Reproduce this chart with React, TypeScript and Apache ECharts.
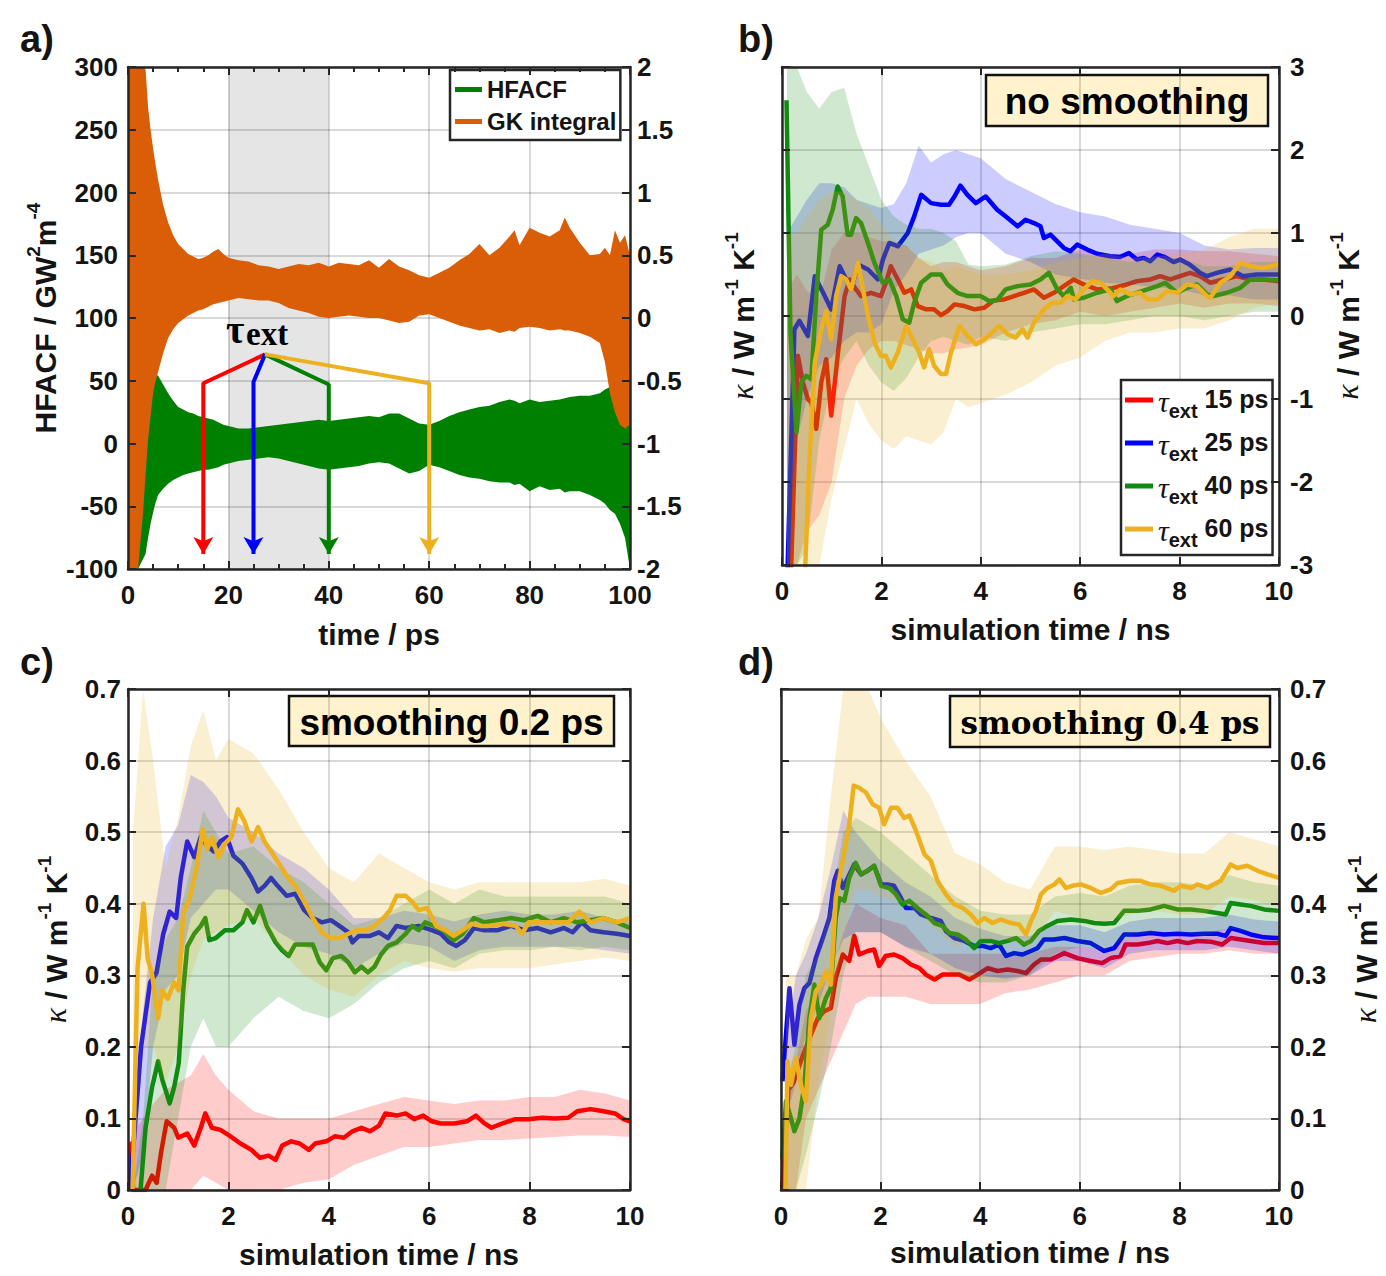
import React, { useEffect, useRef } from 'react';
import * as echarts from 'echarts';

// ---------- panel a: HFACF and running Green–Kubo integral (0–100 ps) ----------
// noisy traces are stored as their upper / lower envelopes
const T_A = [0, 1, 2, 3, 3.5, 4, 4.5, 5, 5.5, 6, 7, 8, 9, 10, 11, 12, 13, 14, 15, 16, 17, 18, 19, 20, 22, 24, 26, 28, 30, 32, 34, 36, 38, 40, 42, 44, 46, 48, 50, 52, 54, 56, 58, 60, 62, 64, 66, 68, 70, 72, 74, 76, 77, 78, 80, 82, 84, 86, 87, 88, 90, 92, 94, 95, 96, 97, 98, 99, 100];
// GK integral, W m^-1 K^-1 (right axis)
const GK_HI = [2, 2, 2, 2, 1.98, 1.68, 1.5, 1.35, 1.22, 1.1, 0.9, 0.76, 0.66, 0.59, 0.55, 0.51, 0.49, 0.47, 0.48, 0.5, 0.53, 0.55, 0.51, 0.48, 0.46, 0.45, 0.42, 0.41, 0.39, 0.41, 0.43, 0.42, 0.44, 0.41, 0.44, 0.43, 0.42, 0.46, 0.4, 0.47, 0.41, 0.38, 0.34, 0.32, 0.36, 0.4, 0.46, 0.51, 0.59, 0.5, 0.56, 0.65, 0.7, 0.58, 0.72, 0.68, 0.65, 0.7, 0.8, 0.72, 0.6, 0.5, 0.51, 0.56, 0.5, 0.7, 0.6, 0.66, 0.5];
const GK_LO = [-2, -2, -2, -1.55, -1.25, -0.97, -0.78, -0.6, -0.5, -0.43, -0.28, -0.16, -0.09, -0.04, -0.01, 0.02, 0.04, 0.06, 0.07, 0.09, 0.11, 0.12, 0.13, 0.14, 0.16, 0.15, 0.14, 0.14, 0.12, 0.08, 0.06, 0.04, 0.01, 0, 0.01, 0.02, 0.01, 0, 0, -0.02, -0.04, -0.03, 0.02, 0.03, 0, -0.03, -0.06, -0.08, -0.1, -0.09, -0.12, -0.1, -0.11, -0.08, -0.07, -0.08, -0.1, -0.09, -0.1, -0.1, -0.12, -0.15, -0.2, -0.35, -0.6, -0.75, -0.85, -0.88, -0.85];
// HFACF, GW^2 m^-4 (left axis)
const HF_HI = [300, 300, 200, 100, 80, 70, 62, 57, 55, 54, 47, 40, 34, 29, 27, 25, 24, 22, 21, 20, 19, 17, 15, 14, 12, 12, 13, 14, 15, 16, 17, 18, 19, 18, 19, 20, 21, 22, 21, 24, 24, 20, 16, 15, 18, 22, 25, 27, 29, 30, 33, 35, 34, 32, 35, 33, 34, 35, 36, 37, 38, 38, 40, 43, 45, 46, 48, 45, 40];
const HF_LO = [-100, -100, -100, -92, -88, -75, -64, -55, -47, -41, -36, -32, -29, -27, -25, -24, -23, -22, -21, -21, -20, -19, -17, -16, -14, -13, -12, -11, -12, -14, -16, -18, -20, -21, -20, -19, -18, -16, -15, -16, -20, -24, -22, -17, -19, -22, -25, -27, -28, -30, -31, -31, -33, -32, -38, -34, -37, -36, -39, -38, -38, -41, -45, -48, -53, -56, -64, -75, -100];
const SHADE_A = [20, 40];
// tau_ext arrows: common apex, knee height, ending near the time axis
const TAU_APEX = [27.3, 71];
const TAU_X = [15, 25, 40, 60];
const TAU_KNEE = [48, 49, 47, 48];
const TAU_END = -88;

// ---------- legend labels ----------
const TAU_VALUES = ['15 ps', '25 ps', '40 ps', '60 ps'];

// ---------- panel b: no smoothing ----------
const B_RED = [[0.17, -3.3], [0.32, -0.48], [0.42, -0.8], [0.52, -1.0], [0.59, -1.04], [0.69, -1.36], [0.79, -0.8], [0.89, -0.52], [0.99, -1.2], [1.12, -0.48], [1.26, 0.24], [1.36, 0.44], [1.49, 0.32], [1.59, 0.24], [1.79, 0.28], [1.99, 0.24], [2.09, 0.4], [2.19, 0.6], [2.33, 0.44], [2.46, 0.28], [2.6, 0.32], [2.73, 0.12], [2.9, 0.08], [3.06, 0.08], [3.2, 0.01], [3.33, 0.06], [3.47, 0.14], [3.67, 0.12], [3.87, 0.08], [4.07, 0.1], [4.27, 0.19], [4.47, 0.2], [4.67, 0.24], [4.87, 0.28], [5.07, 0.32], [5.27, 0.22], [5.47, 0.28], [5.67, 0.36], [5.87, 0.44], [6.07, 0.38], [6.34, 0.32], [6.61, 0.33], [6.88, 0.37], [7.14, 0.42], [7.41, 0.44], [7.61, 0.48], [7.81, 0.44], [8.01, 0.48], [8.21, 0.52], [8.41, 0.48], [8.62, 0.4], [8.88, 0.44], [9.15, 0.48], [9.42, 0.44], [9.68, 0.44], [10, 0.42]];
const B_BLUE = [[0.1, -3.3], [0.25, -0.16], [0.35, -0.06], [0.52, -0.24], [0.66, 0.48], [0.86, 0.24], [0.99, 0.08], [1.16, 0.6], [1.26, 0.48], [1.39, 0.32], [1.53, 0.62], [1.73, 0.56], [1.93, 0.44], [2.03, 0.68], [2.16, 0.88], [2.33, 0.84], [2.53, 1.0], [2.66, 1.2], [2.8, 1.46], [3.0, 1.36], [3.2, 1.34], [3.36, 1.34], [3.47, 1.44], [3.59, 1.57], [3.73, 1.46], [3.9, 1.36], [4.1, 1.44], [4.33, 1.28], [4.54, 1.18], [4.74, 1.08], [4.9, 1.16], [5.07, 1.12], [5.2, 1.08], [5.27, 0.94], [5.4, 0.98], [5.67, 0.82], [5.8, 0.78], [5.94, 0.86], [6.14, 0.8], [6.34, 0.75], [6.6, 0.72], [6.8, 0.71], [6.98, 0.76], [7.14, 0.68], [7.28, 0.7], [7.41, 0.66], [7.55, 0.74], [7.71, 0.71], [7.88, 0.65], [8.01, 0.68], [8.2, 0.62], [8.41, 0.52], [8.55, 0.48], [8.75, 0.52], [9.02, 0.56], [9.28, 0.48], [9.55, 0.5], [9.82, 0.5], [10, 0.5]];
const B_GREEN = [[0.09, 2.6], [0.17, -0.2], [0.29, -1.4], [0.39, -0.8], [0.49, -0.72], [0.59, -0.76], [0.69, 0.24], [0.79, 1.04], [0.92, 1.1], [1.02, 1.28], [1.12, 1.56], [1.22, 1.44], [1.32, 0.98], [1.39, 0.98], [1.49, 1.18], [1.59, 1.12], [1.73, 0.88], [1.86, 0.64], [2.03, 0.4], [2.16, 0.44], [2.3, 0.24], [2.43, -0.04], [2.56, -0.08], [2.66, 0.16], [2.8, 0.4], [3.0, 0.5], [3.2, 0.5], [3.33, 0.38], [3.53, 0.28], [3.73, 0.24], [4.0, 0.24], [4.17, 0.18], [4.33, 0.19], [4.5, 0.32], [4.74, 0.36], [5.0, 0.38], [5.2, 0.44], [5.37, 0.52], [5.54, 0.32], [5.67, 0.24], [5.81, 0.34], [5.87, 0.2], [6.07, 0.22], [6.34, 0.28], [6.61, 0.32], [6.74, 0.18], [6.94, 0.24], [7.14, 0.28], [7.35, 0.32], [7.55, 0.36], [7.71, 0.4], [7.95, 0.28], [8.15, 0.34], [8.35, 0.38], [8.55, 0.26], [8.68, 0.24], [8.95, 0.28], [9.22, 0.34], [9.42, 0.44], [9.68, 0.44], [10, 0.43]];
const B_YELLOW = [[0.45, -3.3], [0.55, -1.76], [0.66, -0.56], [0.79, -0.16], [0.89, 0.06], [0.99, -0.28], [1.09, 0.24], [1.19, 0.48], [1.29, 0.44], [1.39, 0.32], [1.53, 0.64], [1.63, 0.32], [1.73, 0], [1.86, -0.32], [1.99, -0.48], [2.09, -0.48], [2.19, -0.62], [2.33, -0.44], [2.5, -0.12], [2.63, -0.28], [2.76, -0.44], [2.86, -0.62], [2.96, -0.4], [3.06, -0.6], [3.2, -0.7], [3.3, -0.7], [3.4, -0.44], [3.57, -0.12], [3.73, -0.24], [3.9, -0.34], [4.07, -0.28], [4.23, -0.2], [4.37, -0.12], [4.54, -0.22], [4.7, -0.26], [4.84, -0.16], [4.94, -0.26], [5.07, -0.08], [5.27, 0.08], [5.44, 0.16], [5.61, 0.16], [5.74, 0.24], [5.91, 0.2], [6.07, 0.32], [6.24, 0.42], [6.41, 0.4], [6.54, 0.32], [6.67, 0.24], [6.81, 0.32], [7.01, 0.26], [7.21, 0.28], [7.35, 0.2], [7.55, 0.2], [7.75, 0.3], [7.95, 0.28], [8.15, 0.38], [8.35, 0.36], [8.55, 0.24], [8.62, 0.22], [8.82, 0.4], [9.02, 0.48], [9.22, 0.64], [9.42, 0.6], [9.68, 0.58], [10, 0.62]];
// uncertainty envelopes, panel b
const BT_B = [0.1, 0.3, 0.5, 0.75, 1, 1.25, 1.5, 1.75, 2, 2.25, 2.5, 2.75, 3, 3.25, 3.5, 3.75, 4, 4.5, 5, 5.5, 6, 6.5, 7, 7.5, 8, 8.5, 9, 9.5, 10];
const B_RED_HI = [0.3, 0.5, 0.3, 0.2, 0.8, 1.0, 1.0, 0.95, 0.9, 0.9, 0.85, 0.7, 0.6, 0.65, 0.65, 0.6, 0.55, 0.6, 0.7, 0.7, 0.8, 0.75, 0.75, 0.8, 0.8, 0.78, 0.78, 0.75, 0.72];
const B_RED_LO = [-3, -3, -2.6, -2.4, -2.0, -1.0, -0.6, -0.4, -0.3, -0.3, -0.35, -0.4, -0.45, -0.45, -0.4, -0.38, -0.35, -0.2, -0.1, -0.05, 0.05, 0.0, 0.05, 0.1, 0.15, 0.1, 0.15, 0.15, 0.12];
const B_BLUE_HI = [1.0, 1.2, 1.4, 1.6, 1.6, 1.55, 1.4, 1.35, 1.3, 1.35, 1.6, 2.05, 1.85, 1.95, 2.0, 1.95, 1.9, 1.65, 1.5, 1.35, 1.25, 1.2, 1.1, 1.05, 1.0, 0.85, 0.8, 0.82, 0.82];
const B_BLUE_LO = [-3, -1.5, -1.0, -0.6, -0.5, -0.3, -0.2, -0.2, -0.1, 0.3, 0.5, 0.75, 0.8, 0.85, 0.95, 1.0, 1.0, 0.75, 0.65, 0.5, 0.45, 0.4, 0.38, 0.35, 0.32, 0.25, 0.25, 0.2, 0.2];
const B_GREEN_HI = [3, 3, 2.7, 2.5, 2.7, 2.75, 2.2, 1.8, 1.4, 1.2, 1.1, 1.05, 1.05, 1.0, 0.9, 0.62, 0.6, 0.62, 0.72, 0.78, 0.75, 0.7, 0.65, 0.7, 0.7, 0.6, 0.6, 0.65, 0.65];
const B_GREEN_LO = [-3, -3, -2.8, -1.5, -0.8, -0.5, -0.3, -0.6, -0.8, -0.9, -0.75, -0.5, -0.3, -0.25, -0.3, -0.35, -0.25, -0.3, -0.2, -0.15, -0.1, -0.1, -0.05, 0.0, 0.0, -0.05, 0.0, 0.05, 0.05];
const B_YELLOW_HI = [1.0, 1.0, 1.2, 1.4, 1.5, 1.5, 1.4, 1.3, 1.1, 0.9, 0.85, 0.7, 0.65, 0.55, 0.6, 0.55, 0.5, 0.5, 0.55, 0.65, 0.7, 0.75, 0.7, 0.72, 0.75, 0.8, 0.95, 1.05, 1.05];
const B_YELLOW_LO = [-3, -3, -3, -3, -2.2, -1.6, -1.0, -1.3, -1.5, -1.6, -1.45, -1.5, -1.55, -1.4, -1.0, -1.1, -1.05, -0.95, -0.8, -0.6, -0.5, -0.3, -0.2, -0.2, -0.15, -0.15, -0.05, 0.1, 0.15];

// ---------- panel c: smoothing 0.2 ps ----------
const C_RED = [[0.05, 0], [0.07, 0.065], [0.1, 0], [0.35, 0], [0.48, 0.02], [0.57, 0.01], [0.66, 0.053], [0.77, 0.096], [0.92, 0.087], [1.0, 0.073], [1.18, 0.079], [1.32, 0.062], [1.45, 0.087], [1.54, 0.107], [1.67, 0.087], [1.84, 0.084], [2.02, 0.076], [2.24, 0.065], [2.46, 0.056], [2.63, 0.045], [2.8, 0.048], [2.94, 0.042], [3.07, 0.062], [3.25, 0.068], [3.42, 0.065], [3.6, 0.056], [3.73, 0.065], [3.95, 0.068], [4.12, 0.075], [4.3, 0.073], [4.47, 0.082], [4.65, 0.087], [4.82, 0.082], [5.0, 0.09], [5.13, 0.107], [5.35, 0.104], [5.53, 0.107], [5.7, 0.099], [5.88, 0.104], [6.05, 0.096], [6.23, 0.093], [6.5, 0.093], [6.75, 0.096], [6.93, 0.104], [7.1, 0.093], [7.24, 0.087], [7.46, 0.093], [7.72, 0.099], [7.98, 0.099], [8.25, 0.101], [8.5, 0.1], [8.77, 0.101], [8.95, 0.11], [9.21, 0.113], [9.47, 0.11], [9.7, 0.107], [9.87, 0.099], [10, 0.096]];
const C_BLUE = [[0.04, 0], [0.26, 0.2], [0.44, 0.29], [0.57, 0.304], [0.7, 0.357], [0.83, 0.389], [0.96, 0.38], [1.05, 0.436], [1.18, 0.487], [1.32, 0.465], [1.45, 0.493], [1.58, 0.481], [1.71, 0.473], [1.84, 0.487], [1.97, 0.493], [2.1, 0.467], [2.28, 0.456], [2.46, 0.436], [2.59, 0.417], [2.72, 0.425], [2.85, 0.436], [2.98, 0.425], [3.16, 0.411], [3.33, 0.414], [3.51, 0.391], [3.68, 0.38], [3.86, 0.374], [4.04, 0.377], [4.21, 0.369], [4.39, 0.36], [4.47, 0.346], [4.6, 0.355], [4.82, 0.355], [5.0, 0.36], [5.18, 0.352], [5.35, 0.369], [5.53, 0.366], [5.79, 0.369], [6.05, 0.363], [6.23, 0.358], [6.4, 0.346], [6.54, 0.341], [6.71, 0.349], [6.89, 0.366], [7.1, 0.363], [7.37, 0.363], [7.63, 0.369], [7.89, 0.363], [8.16, 0.366], [8.42, 0.36], [8.68, 0.366], [8.86, 0.36], [9.04, 0.374], [9.21, 0.363], [9.47, 0.36], [9.74, 0.358], [10, 0.355]];
const C_GREEN = [[0.25, 0], [0.35, 0.087], [0.48, 0.144], [0.6, 0.18], [0.68, 0.155], [0.83, 0.121], [0.92, 0.144], [1.01, 0.177], [1.1, 0.279], [1.18, 0.34], [1.32, 0.358], [1.45, 0.369], [1.54, 0.38], [1.62, 0.349], [1.75, 0.352], [1.93, 0.363], [2.1, 0.363], [2.28, 0.374], [2.37, 0.391], [2.5, 0.374], [2.63, 0.397], [2.76, 0.369], [2.94, 0.346], [3.07, 0.335], [3.2, 0.327], [3.33, 0.343], [3.51, 0.343], [3.68, 0.343], [3.82, 0.318], [3.95, 0.307], [4.08, 0.324], [4.25, 0.327], [4.39, 0.318], [4.52, 0.304], [4.65, 0.312], [4.78, 0.304], [4.91, 0.312], [5.04, 0.329], [5.18, 0.341], [5.35, 0.346], [5.53, 0.358], [5.66, 0.369], [5.79, 0.363], [5.92, 0.374], [6.1, 0.369], [6.27, 0.363], [6.49, 0.349], [6.67, 0.358], [6.89, 0.38], [7.1, 0.374], [7.37, 0.377], [7.63, 0.38], [7.89, 0.377], [8.16, 0.383], [8.42, 0.374], [8.68, 0.38], [8.95, 0.374], [9.21, 0.377], [9.47, 0.38], [9.74, 0.374], [10, 0.366]];
const C_YELLOW = [[0.09, 0], [0.14, 0.15], [0.19, 0.31], [0.31, 0.4], [0.39, 0.324], [0.48, 0.301], [0.6, 0.24], [0.68, 0.279], [0.79, 0.267], [0.92, 0.29], [1.01, 0.279], [1.1, 0.386], [1.23, 0.408], [1.36, 0.448], [1.49, 0.504], [1.58, 0.476], [1.67, 0.493], [1.8, 0.465], [1.93, 0.484], [2.06, 0.493], [2.19, 0.532], [2.32, 0.515], [2.46, 0.487], [2.59, 0.507], [2.72, 0.487], [2.85, 0.473], [2.98, 0.459], [3.16, 0.439], [3.33, 0.425], [3.51, 0.403], [3.68, 0.38], [3.86, 0.36], [4.04, 0.352], [4.21, 0.352], [4.39, 0.358], [4.56, 0.363], [4.74, 0.363], [4.91, 0.369], [5.09, 0.38], [5.22, 0.391], [5.35, 0.411], [5.53, 0.411], [5.66, 0.403], [5.79, 0.391], [5.96, 0.394], [6.14, 0.369], [6.32, 0.363], [6.49, 0.355], [6.67, 0.363], [6.84, 0.372], [7.02, 0.369], [7.19, 0.369], [7.46, 0.372], [7.72, 0.369], [7.85, 0.358], [7.98, 0.374], [8.25, 0.374], [8.51, 0.374], [8.77, 0.374], [8.99, 0.389], [9.21, 0.374], [9.47, 0.38], [9.74, 0.374], [10, 0.38]];
// uncertainty envelopes, panels c and d share one time grid
const BT_CD = [0.1, 0.3, 0.5, 0.75, 1, 1.25, 1.5, 1.75, 2, 2.5, 3, 3.5, 4, 4.5, 5, 5.5, 6, 6.5, 7, 7.5, 8, 8.5, 9, 9.5, 10];
const C_RED_HI = [0.08, 0.1, 0.12, 0.14, 0.15, 0.16, 0.19, 0.16, 0.14, 0.11, 0.1, 0.1, 0.1, 0.11, 0.12, 0.13, 0.125, 0.12, 0.125, 0.125, 0.13, 0.13, 0.14, 0.135, 0.125];
const C_RED_LO = [0, 0, 0, 0, 0, 0, 0.02, 0.01, 0, 0, 0, 0.01, 0.015, 0.035, 0.048, 0.06, 0.06, 0.065, 0.07, 0.07, 0.072, 0.074, 0.076, 0.076, 0.074];
const C_BLUE_HI = [0.1, 0.25, 0.38, 0.48, 0.51, 0.58, 0.57, 0.55, 0.52, 0.5, 0.47, 0.45, 0.42, 0.38, 0.38, 0.39, 0.385, 0.375, 0.385, 0.39, 0.385, 0.385, 0.39, 0.38, 0.375];
const C_BLUE_LO = [0, 0.05, 0.2, 0.28, 0.3, 0.38, 0.4, 0.42, 0.42, 0.39, 0.36, 0.34, 0.33, 0.31, 0.33, 0.345, 0.34, 0.32, 0.335, 0.34, 0.34, 0.34, 0.34, 0.335, 0.33];
const C_GREEN_HI = [0, 0.1, 0.3, 0.35, 0.38, 0.45, 0.53, 0.5, 0.47, 0.48, 0.45, 0.43, 0.4, 0.37, 0.38, 0.4, 0.42, 0.4, 0.42, 0.41, 0.41, 0.41, 0.41, 0.41, 0.4];
const C_GREEN_LO = [0, 0, 0, 0, 0.1, 0.2, 0.24, 0.2, 0.2, 0.24, 0.27, 0.25, 0.24, 0.26, 0.29, 0.31, 0.32, 0.31, 0.33, 0.335, 0.335, 0.34, 0.335, 0.34, 0.335];
const C_YELLOW_HI = [0.5, 0.7, 0.6, 0.45, 0.52, 0.62, 0.67, 0.6, 0.63, 0.61, 0.56, 0.5, 0.45, 0.43, 0.47, 0.45, 0.43, 0.42, 0.43, 0.43, 0.43, 0.43, 0.43, 0.435, 0.425];
const C_YELLOW_LO = [0, 0.2, 0.2, 0.15, 0.2, 0.3, 0.35, 0.36, 0.37, 0.38, 0.34, 0.3, 0.28, 0.27, 0.3, 0.32, 0.31, 0.305, 0.31, 0.31, 0.31, 0.315, 0.32, 0.325, 0.32];

// ---------- panel d: smoothing 0.4 ps ----------
const D_RED = [[0.03, 0], [0.05, 0.04], [0.15, 0.14], [0.25, 0.15], [0.35, 0.17], [0.45, 0.19], [0.6, 0.217], [0.74, 0.24], [0.87, 0.25], [1.0, 0.254], [1.1, 0.296], [1.24, 0.329], [1.37, 0.32], [1.47, 0.355], [1.57, 0.329], [1.74, 0.334], [1.87, 0.336], [1.97, 0.313], [2.1, 0.327], [2.27, 0.329], [2.44, 0.324], [2.61, 0.315], [2.78, 0.31], [2.91, 0.301], [3.08, 0.294], [3.24, 0.301], [3.41, 0.301], [3.58, 0.301], [3.78, 0.294], [3.95, 0.301], [4.15, 0.31], [4.35, 0.306], [4.55, 0.308], [4.75, 0.306], [4.92, 0.303], [5.08, 0.315], [5.22, 0.322], [5.42, 0.322], [5.69, 0.331], [5.95, 0.324], [6.22, 0.32], [6.45, 0.317], [6.62, 0.324], [6.82, 0.327], [6.92, 0.343], [7.16, 0.343], [7.36, 0.345], [7.56, 0.348], [7.76, 0.345], [7.96, 0.348], [8.16, 0.345], [8.36, 0.348], [8.63, 0.347], [8.86, 0.343], [9.03, 0.352], [9.23, 0.35], [9.43, 0.348], [9.7, 0.345], [10, 0.345]];
const D_BLUE = [[0.03, 0.152], [0.17, 0.282], [0.27, 0.203], [0.37, 0.259], [0.47, 0.282], [0.57, 0.289], [0.7, 0.324], [0.84, 0.352], [0.97, 0.38], [1.07, 0.432], [1.14, 0.446], [1.24, 0.422], [1.34, 0.436], [1.47, 0.455], [1.61, 0.441], [1.74, 0.446], [1.87, 0.453], [2.01, 0.427], [2.14, 0.427], [2.27, 0.425], [2.41, 0.408], [2.51, 0.394], [2.68, 0.394], [2.81, 0.385], [3.01, 0.38], [3.21, 0.376], [3.31, 0.362], [3.48, 0.352], [3.68, 0.348], [3.88, 0.341], [4.05, 0.341], [4.21, 0.338], [4.38, 0.343], [4.52, 0.327], [4.68, 0.331], [4.85, 0.329], [5.02, 0.334], [5.15, 0.338], [5.28, 0.35], [5.48, 0.35], [5.69, 0.352], [5.95, 0.348], [6.22, 0.345], [6.49, 0.334], [6.69, 0.338], [6.89, 0.357], [7.16, 0.357], [7.42, 0.359], [7.69, 0.357], [7.96, 0.358], [8.23, 0.357], [8.49, 0.358], [8.76, 0.358], [8.93, 0.355], [9.03, 0.366], [9.23, 0.362], [9.43, 0.357], [9.7, 0.353], [10, 0.352]];
const D_GREEN = [[0.03, 0.044], [0.1, 0.124], [0.2, 0.1], [0.27, 0.082], [0.37, 0.1], [0.47, 0.147], [0.57, 0.24], [0.67, 0.287], [0.77, 0.24], [0.9, 0.268], [1.0, 0.282], [1.1, 0.38], [1.17, 0.408], [1.27, 0.404], [1.37, 0.436], [1.5, 0.457], [1.61, 0.441], [1.74, 0.446], [1.87, 0.453], [2.01, 0.425], [2.17, 0.422], [2.31, 0.413], [2.44, 0.399], [2.58, 0.404], [2.74, 0.394], [2.91, 0.385], [3.08, 0.373], [3.24, 0.369], [3.38, 0.359], [3.55, 0.357], [3.71, 0.35], [3.88, 0.338], [4.01, 0.348], [4.21, 0.348], [4.38, 0.345], [4.55, 0.348], [4.72, 0.352], [4.88, 0.343], [5.02, 0.348], [5.18, 0.362], [5.35, 0.369], [5.55, 0.376], [5.82, 0.378], [6.09, 0.376], [6.29, 0.373], [6.49, 0.372], [6.69, 0.373], [6.89, 0.39], [7.16, 0.39], [7.42, 0.392], [7.69, 0.397], [7.96, 0.392], [8.23, 0.392], [8.49, 0.39], [8.76, 0.387], [8.93, 0.385], [9.03, 0.401], [9.23, 0.399], [9.43, 0.397], [9.7, 0.392], [10, 0.39]];
const D_YELLOW = [[0.09, 0], [0.13, 0.18], [0.2, 0.147], [0.3, 0.184], [0.4, 0.147], [0.5, 0.124], [0.6, 0.24], [0.7, 0.278], [0.8, 0.287], [0.9, 0.306], [1.0, 0.287], [1.1, 0.408], [1.24, 0.46], [1.37, 0.511], [1.46, 0.565], [1.57, 0.562], [1.71, 0.555], [1.84, 0.539], [1.97, 0.534], [2.07, 0.511], [2.21, 0.534], [2.34, 0.534], [2.47, 0.52], [2.58, 0.523], [2.71, 0.502], [2.88, 0.469], [3.01, 0.46], [3.14, 0.432], [3.31, 0.413], [3.48, 0.399], [3.65, 0.394], [3.81, 0.385], [3.95, 0.373], [4.08, 0.38], [4.25, 0.373], [4.41, 0.378], [4.62, 0.373], [4.78, 0.371], [4.92, 0.357], [5.02, 0.376], [5.12, 0.39], [5.22, 0.413], [5.35, 0.422], [5.49, 0.427], [5.59, 0.434], [5.72, 0.422], [5.85, 0.425], [6.02, 0.427], [6.22, 0.422], [6.42, 0.415], [6.62, 0.42], [6.76, 0.429], [7.02, 0.432], [7.22, 0.432], [7.42, 0.427], [7.63, 0.425], [7.89, 0.418], [8.03, 0.425], [8.23, 0.422], [8.36, 0.427], [8.56, 0.422], [8.83, 0.432], [9.03, 0.455], [9.16, 0.45], [9.36, 0.453], [9.57, 0.446], [9.77, 0.441], [10, 0.436]];
const D_RED_HI = [0.1, 0.18, 0.25, 0.28, 0.3, 0.36, 0.4, 0.39, 0.38, 0.37, 0.33, 0.33, 0.33, 0.33, 0.33, 0.34, 0.34, 0.335, 0.355, 0.36, 0.36, 0.36, 0.365, 0.36, 0.355];
const D_RED_LO = [0, 0, 0.1, 0.14, 0.18, 0.22, 0.26, 0.27, 0.27, 0.27, 0.26, 0.26, 0.26, 0.275, 0.28, 0.29, 0.3, 0.3, 0.32, 0.325, 0.33, 0.33, 0.335, 0.33, 0.33];
const D_BLUE_HI = [0.2, 0.3, 0.33, 0.38, 0.45, 0.53, 0.5, 0.48, 0.46, 0.43, 0.41, 0.38, 0.365, 0.355, 0.355, 0.37, 0.37, 0.36, 0.375, 0.38, 0.38, 0.38, 0.385, 0.378, 0.375];
const D_BLUE_LO = [0.1, 0.15, 0.22, 0.26, 0.31, 0.35, 0.36, 0.36, 0.36, 0.34, 0.33, 0.31, 0.3, 0.295, 0.3, 0.32, 0.32, 0.31, 0.33, 0.335, 0.335, 0.335, 0.34, 0.335, 0.33];
const D_GREEN_HI = [0.15, 0.2, 0.3, 0.33, 0.4, 0.5, 0.52, 0.51, 0.5, 0.47, 0.44, 0.41, 0.39, 0.385, 0.385, 0.41, 0.415, 0.41, 0.425, 0.43, 0.43, 0.425, 0.44, 0.43, 0.425];
const D_GREEN_LO = [0, 0, 0.05, 0.12, 0.2, 0.3, 0.36, 0.36, 0.36, 0.34, 0.32, 0.3, 0.29, 0.29, 0.3, 0.33, 0.34, 0.335, 0.355, 0.36, 0.36, 0.355, 0.365, 0.36, 0.355];
const D_YELLOW_HI = [0.3, 0.3, 0.35, 0.38, 0.55, 0.7, 0.7, 0.7, 0.66, 0.6, 0.55, 0.47, 0.455, 0.43, 0.42, 0.48, 0.48, 0.475, 0.48, 0.475, 0.47, 0.47, 0.5, 0.49, 0.48];
const D_YELLOW_LO = [0, 0, 0, 0.15, 0.25, 0.35, 0.42, 0.42, 0.41, 0.4, 0.37, 0.34, 0.35, 0.35, 0.34, 0.39, 0.38, 0.375, 0.385, 0.39, 0.385, 0.385, 0.41, 0.405, 0.395];

// ---------- styling ----------
const SANS = '"Liberation Sans", Arial, sans-serif';
const SERIF = '"Liberation Serif", "Times New Roman", serif';
const DSERIF = '"DejaVu Serif", serif';
const AX = '#262626';
const TXT = '#141414';
const GRID = 'rgba(0,0,0,0.15)';
const RED = '#FF0000';
const BLUE = '#0000FF';
const GREEN = '#118A11';
const YELLOW = '#EDB120';
const GREEN_A = '#008000';
const ORANGE_A = '#D95E07';
const BOX_FILL = '#FFF2CC';

const fade = (hex: string, a: number) => {
  const n = parseInt(hex.slice(1), 16);
  return `rgba(${(n >> 16) & 255},${(n >> 8) & 255},${n & 255},${a})`;
};

const NAME_RICH = {
  n: { fontFamily: SANS, fontWeight: 'bold', fontSize: 30, lineHeight: 36, verticalAlign: 'bottom', color: TXT },
  p: { fontFamily: SANS, fontWeight: 'bold', fontSize: 19, lineHeight: 19, padding: [0, 0, 17, 0], verticalAlign: 'bottom', color: TXT },
  k: { fontFamily: SERIF, fontStyle: 'italic', fontSize: 32, lineHeight: 36, verticalAlign: 'bottom', color: TXT },
};
const KAPPA_NAME = '{k|κ}{n| / W m}{p|-1}{n| K}{p|-1}';
const HFACF_NAME = '{n|HFACF / GW}{p|2}{n|m}{p|-4}';

const lineAx = { show: true, onZero: false, lineStyle: { color: AX, width: 2.5 } };
const noLine = { show: false, onZero: false };
const tickAx = { show: true, inside: true, length: 8, lineStyle: { color: AX, width: 2 } };
const labelStyle = (show: boolean, margin: number) => ({
  show, margin, fontFamily: SANS, fontWeight: 'bold', fontSize: 26, color: TXT,
});

function xAxes(g: number, max: number, interval: number, name: string, nameGap: number, minor: boolean) {
  const base = { type: 'value', gridIndex: g, min: 0, max, interval };
  const mt = { show: minor, splitNumber: 4, length: 5, lineStyle: { color: AX, width: 2 } };
  return [
    {
      ...base, position: 'bottom', z: 10, axisLine: lineAx, axisTick: tickAx, minorTick: mt,
      axisLabel: labelStyle(true, 13), splitLine: { show: false },
      name, nameLocation: 'middle', nameGap,
      nameTextStyle: { fontFamily: SANS, fontWeight: 'bold', fontSize: 30, color: TXT },
    },
    { ...base, position: 'top', z: 10, axisLine: lineAx, axisTick: tickAx, minorTick: mt, axisLabel: { show: false }, splitLine: { show: false } },
    {
      ...base, z: 0, axisLine: noLine, axisTick: { show: false }, axisLabel: { show: false },
      splitLine: { show: true, lineStyle: { color: GRID, width: 2 } },
    },
  ];
}

type Side = { labels: boolean; margin: number; name?: string; gap?: number };
function yAxes(g: number, min: number, max: number, interval: number, left: Side, right: Side, rMin?: number, rMax?: number, rInt?: number) {
  const base = { type: 'value', gridIndex: g, min, max, interval };
  const named = (s: Side) => s.name ? {
    name: s.name, nameLocation: 'middle', nameGap: s.gap, nameRotate: 90,
    nameTextStyle: { color: TXT, rich: NAME_RICH },
  } : {};
  return [
    { ...base, position: 'left', z: 10, axisLine: lineAx, axisTick: tickAx, axisLabel: labelStyle(left.labels, left.margin), splitLine: { show: false }, ...named(left) },
    {
      ...base, min: rMin ?? min, max: rMax ?? max, interval: rInt ?? interval,
      position: 'right', z: 10, axisLine: lineAx, axisTick: tickAx, axisLabel: labelStyle(right.labels, right.margin), splitLine: { show: false }, ...named(right),
    },
    {
      ...base, z: 0, axisLine: noLine, axisTick: { show: false }, axisLabel: { show: false },
      splitLine: { show: true, lineStyle: { color: GRID, width: 2 } },
    },
  ];
}

function band(name: string, ts: number[], hi: number[], lo: number[], fill: string, xi: number, yi: number, z: number) {
  return {
    type: 'custom', name, xAxisIndex: xi, yAxisIndex: yi, z, silent: true, clip: true,
    itemStyle: { color: fill },
    data: [[ts[0], lo[0]]],
    renderItem: (_p: any, api: any) => {
      const pts: number[][] = [];
      for (let i = 0; i < ts.length; i++) pts.push(api.coord([ts[i], hi[i]]));
      for (let i = ts.length - 1; i >= 0; i--) pts.push(api.coord([ts[i], lo[i]]));
      return { type: 'polygon', shape: { points: pts }, style: { fill } };
    },
  };
}

function trace(name: string, data: number[][], color: string, xi: number, yi: number, z: number) {
  return {
    type: 'line', name, data, xAxisIndex: xi, yAxisIndex: yi, z, silent: true,
    showSymbol: false, symbol: 'none', clip: true,
    lineStyle: { color, width: 4.5, join: 'round' }, itemStyle: { color },
    emphasis: { disabled: true },
  };
}

const TAU_NAMES = TAU_VALUES.map((v) => `τext ${v}`);
const COLORS = [RED, BLUE, GREEN, YELLOW];

function kappaPanel(g: number, lines: number[][][], ts: number[], his: number[][], los: number[][], tag: string) {
  const out: any[] = [];
  const xi = 3 * g;
  const yi = 3 * g;
  for (let i = 0; i < 4; i++) {
    out.push(band(`${tag}-${i}-spread`, ts, his[i], los[i], fade(COLORS[i], 0.2), xi, yi, 2 + 2 * i));
    out.push(trace(TAU_NAMES[i], lines[i], COLORS[i], xi, yi, 3 + 2 * i));
  }
  return out;
}

function buildOption() {
  const series: any[] = [];

  // panel a
  series.push({
    type: 'custom', name: 'window', xAxisIndex: 0, yAxisIndex: 0, z: 1, silent: true, clip: true,
    data: [[SHADE_A[0], 0]],
    renderItem: (_p: any, api: any) => {
      const a = api.coord([SHADE_A[0], 300]);
      const b = api.coord([SHADE_A[1], -100]);
      return { type: 'rect', shape: { x: a[0], y: a[1], width: b[0] - a[0], height: b[1] - a[1] }, style: { fill: 'rgba(0,0,0,0.1)' } };
    },
  });
  series.push(band('HFACF', T_A, HF_HI, HF_LO, GREEN_A, 0, 0, 2));
  series.push(band('GK integral', T_A, GK_HI, GK_LO, ORANGE_A, 0, 1, 3));
  const arrowColors = [RED, BLUE, GREEN_A, YELLOW];
  TAU_X.forEach((x, i) => {
    series.push({
      type: 'line', name: `tau-arrow-${i}`, xAxisIndex: 0, yAxisIndex: 0, z: 5, silent: true,
      data: [TAU_APEX, [x, TAU_KNEE[i]], [x, TAU_END]],
      showSymbol: true, showAllSymbol: true,
      symbol: (_v: any, p: any) => (p.dataIndex === 2 ? 'arrow' : 'none'),
      symbolSize: [15, 17], symbolRotate: 180,
      lineStyle: { color: arrowColors[i], width: 4 }, itemStyle: { color: arrowColors[i] },
      emphasis: { disabled: true },
    });
  });

  series.push(...kappaPanel(1, [B_RED, B_BLUE, B_GREEN, B_YELLOW], BT_B,
    [B_RED_HI, B_BLUE_HI, B_GREEN_HI, B_YELLOW_HI], [B_RED_LO, B_BLUE_LO, B_GREEN_LO, B_YELLOW_LO], 'b'));
  series.push(...kappaPanel(2, [C_RED, C_BLUE, C_GREEN, C_YELLOW], BT_CD,
    [C_RED_HI, C_BLUE_HI, C_GREEN_HI, C_YELLOW_HI], [C_RED_LO, C_BLUE_LO, C_GREEN_LO, C_YELLOW_LO], 'c'));
  series.push(...kappaPanel(3, [D_RED, D_BLUE, D_GREEN, D_YELLOW], BT_CD,
    [D_RED_HI, D_BLUE_HI, D_GREEN_HI, D_YELLOW_HI], [D_RED_LO, D_BLUE_LO, D_GREEN_LO, D_YELLOW_LO], 'd'));

  const panelLabel = (text: string, x: number, y: number) => ({
    type: 'text', x, y, z: 50,
    style: { text, font: `bold 38px ${SANS}`, fill: TXT, align: 'left', verticalAlign: 'top' },
  });
  const tagBox = (text: string, x: number, y: number, w: number, h: number, font: string) => ({
    type: 'group', z: 50,
    children: [
      { type: 'rect', shape: { x, y, width: w, height: h }, style: { fill: BOX_FILL, stroke: '#111', lineWidth: 2.5 } },
      { type: 'text', x: x + w / 2, y: y + h / 2 + 1, style: { text, font, fill: '#000', align: 'center', verticalAlign: 'middle' } },
    ],
  });

  return {
    animation: false,
    backgroundColor: '#ffffff',
    textStyle: { fontFamily: SANS },
    grid: [
      { left: 128, top: 67, width: 502, height: 502 },
      { left: 782, top: 67, width: 497, height: 498 },
      { left: 128, top: 689, width: 502, height: 501 },
      { left: 781, top: 689, width: 498, height: 501 },
    ],
    xAxis: [
      ...xAxes(0, 100, 20, 'time / ps', 50, true),
      ...xAxes(1, 10, 2, 'simulation time / ns', 49, false),
      ...xAxes(2, 10, 2, 'simulation time / ns', 49, false),
      ...xAxes(3, 10, 2, 'simulation time / ns', 47, false),
    ],
    yAxis: [
      ...yAxes(0, -100, 300, 50, { labels: true, margin: 10, name: HFACF_NAME, gap: 68 }, { labels: true, margin: 7 }, -2, 2, 0.5),
      ...yAxes(1, -3, 3, 1, { labels: false, margin: 8, name: KAPPA_NAME, gap: 24 }, { labels: true, margin: 11, name: KAPPA_NAME, gap: 48 }),
      ...yAxes(2, 0, 0.7, 0.1, { labels: true, margin: 7, name: KAPPA_NAME, gap: 57 }, { labels: false, margin: 8 }),
      ...yAxes(3, 0, 0.7, 0.1, { labels: false, margin: 8 }, { labels: true, margin: 11, name: KAPPA_NAME, gap: 66 }),
    ],
    legend: [
      {
        data: ['HFACF', 'GK integral'], left: 450, top: 70, orient: 'vertical',
        icon: 'rect', itemWidth: 27, itemHeight: 5, itemGap: 5, selectedMode: false,
        backgroundColor: '#fff', borderColor: AX, borderWidth: 2.5, padding: [6, 4, 5, 5],
        textStyle: { fontFamily: SANS, fontWeight: 'bold', fontSize: 24, color: TXT, lineHeight: 27 },
      },
      {
        data: TAU_NAMES, left: 1121, top: 380, orient: 'vertical',
        icon: 'rect', itemWidth: 28, itemHeight: 5, itemGap: 8, selectedMode: false,
        backgroundColor: '#fff', borderColor: AX, borderWidth: 2.5, padding: [6, 4, 5, 4],
        formatter: (n: string) => `{t|τ}{s|ext}{v| ${n.replace('τext ', '')}}`,
        textStyle: {
          color: TXT,
          rich: {
            t: { fontFamily: SERIF, fontStyle: 'italic', fontSize: 30, lineHeight: 28, verticalAlign: 'top', color: TXT },
            s: { fontFamily: SANS, fontWeight: 'bold', fontSize: 20, lineHeight: 20, padding: [15, 0, 0, 0], verticalAlign: 'top', color: TXT },
            v: { fontFamily: SANS, fontWeight: 'bold', fontSize: 25, lineHeight: 28, verticalAlign: 'top', color: TXT },
          },
        },
      },
    ],
    graphic: [
      panelLabel('a)', 20, 20),
      panelLabel('b)', 738, 20),
      panelLabel('c)', 20, 643),
      panelLabel('d)', 738, 643),
      tagBox('no smoothing', 986, 75, 282, 51, `bold 37px ${SANS}`),
      tagBox('smoothing 0.2 ps', 289, 696, 325, 50, `bold 37px ${SANS}`),
      tagBox('smoothing 0.4 ps', 950, 696, 320, 51, `bold 31px ${DSERIF}`),
      { type: 'text', x: 226, y: 329, z: 50, style: { text: 'τ', font: `bold 40px ${SERIF}`, fill: '#000', align: 'left', verticalAlign: 'middle' } },
      { type: 'text', x: 246, y: 334, z: 50, style: { text: 'ext', font: `bold 33px ${SERIF}`, fill: '#000', align: 'left', verticalAlign: 'middle' } },
    ],
    series,
  };
}

export default function App() {
  const ref = useRef<HTMLDivElement>(null);
  useEffect(() => {
    if (!ref.current) return;
    const chart = echarts.init(ref.current, undefined, { renderer: 'svg' });
    chart.setOption(buildOption() as any);
    return () => chart.dispose();
  }, []);
  return (
    <div
      ref={ref}
      style={{ position: 'absolute', left: 0, top: 0, width: 1386, height: 1276, background: '#fff' }}
    />
  );
}
